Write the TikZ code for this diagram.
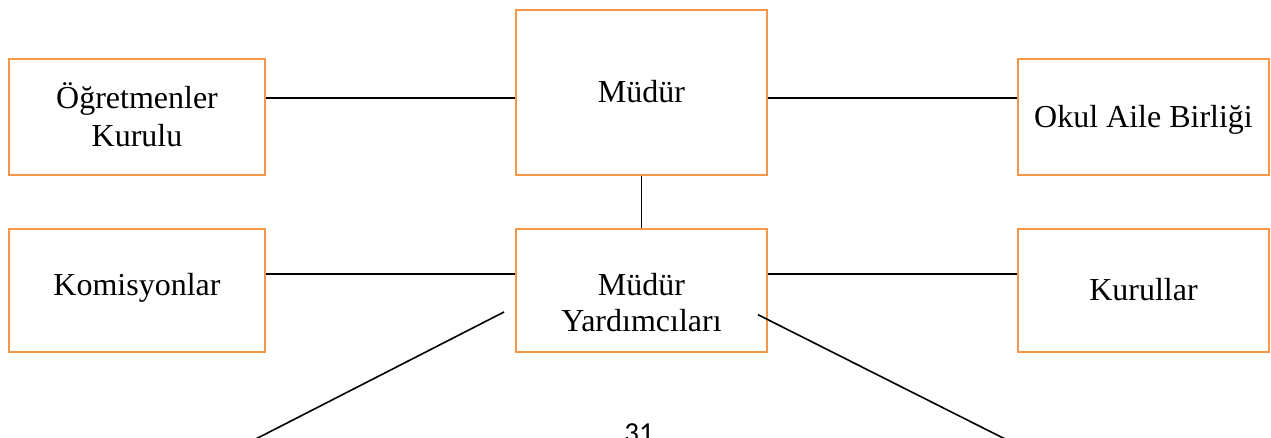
\documentclass[tikz,border=0pt]{standalone}
\usepackage{fontspec}
\setmainfont{Liberation Serif}
\newfontfamily\pagenumfont{Carlito}
\definecolor{boxorange}{HTML}{F79646}
\begin{document}
\begin{tikzpicture}[x=1pt,y=-1pt,
  orgbox/.style={draw=boxorange, line width=1.8pt, rectangle, inner sep=0pt},
  lbl/.style={font=\fontsize{32}{38}\selectfont, inner sep=0pt, anchor=base},
  link/.style={draw=black, line width=1.6pt}]
\useasboundingbox[fill=white] (0,0) rectangle (1271,438);
% boxes
\node[orgbox, minimum width=256pt, minimum height=116pt] (ogr) at (137,117) {};
\node[orgbox, minimum width=251pt, minimum height=165pt] (mudur) at (641.5,92.5) {};
\node[orgbox, minimum width=251pt, minimum height=116pt] (okul) at (1143.5,117) {};
\node[orgbox, minimum width=256pt, minimum height=123pt] (kom) at (137,290.5) {};
\node[orgbox, minimum width=251pt, minimum height=123pt] (my) at (641.5,290.5) {};
\node[orgbox, minimum width=251pt, minimum height=123pt] (kur) at (1143.5,290.5) {};
% texts
\node[lbl] (ogrT) at (137,109) {\begin{tabular}[t]{@{}c@{}}Öğretmenler\\Kurulu\end{tabular}};
\node[lbl] (mudurT) at (641.5,103) {Müdür};
\node[lbl] (okulT) at (1143.5,128) {Okul Aile Birliği};
\node[lbl] (komT) at (137,295) {Komisyonlar};
\node[lbl] (myT) at (641.5,295) {\begin{tabular}[t]{@{}c@{}}Müdür\\[-2pt]Yardımcıları\end{tabular}};
\node[lbl] (kurT) at (1143.5,301) {Kurullar};
\node[inner sep=0pt, anchor=base, font=\pagenumfont\fontsize{29}{34}\selectfont] (pageno) at (639,442.5) {31};
% connectors
\draw[link] ([yshift=19pt]ogr.east) -- ([yshift=-5.5pt]mudur.west);
\draw[link] ([yshift=-5.5pt]mudur.east) -- ([yshift=19pt]okul.west);
\draw[link] (mudur.south) -- (my.north);
\draw[link] ([yshift=16.5pt]kom.east) -- ([yshift=16.5pt]my.west);
\draw[link] ([yshift=16.5pt]my.east) -- ([yshift=16.5pt]kur.west);
\coordinate (dlA) at (504,312);
\coordinate (dlB) at (246,444);
\coordinate (drA) at (758,314.7);
\coordinate (drB) at (1015,444);
\draw[link] (dlA) -- (dlB);
\draw[link] (drA) -- (drB);
\end{tikzpicture}
\end{document}
